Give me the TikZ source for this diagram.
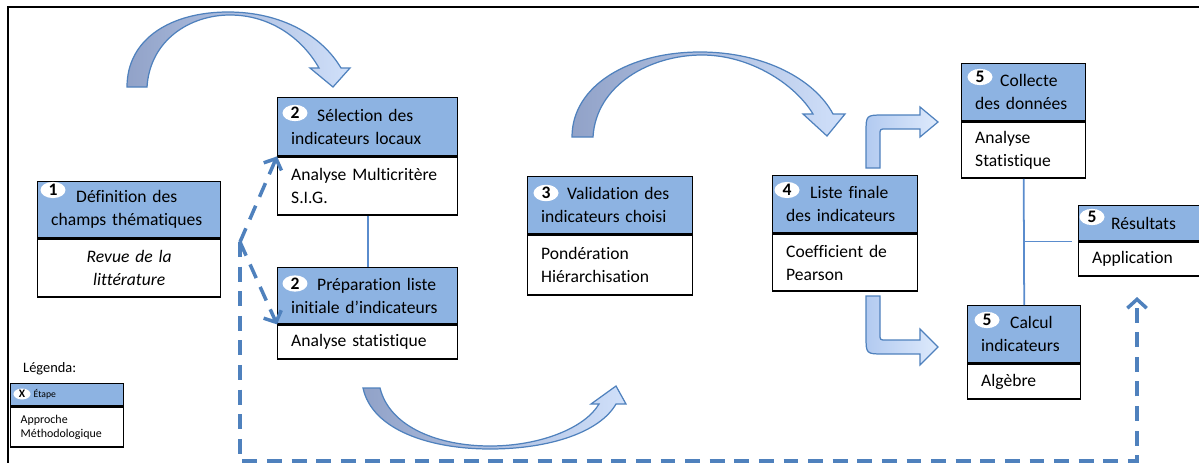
\documentclass[tikz,border=0pt]{standalone}
\usepackage{fontspec}
\setmainfont[Ligatures=NoCommon]{Carlito}
\usepackage{tikz}
\usetikzlibrary{arrows.meta, positioning, calc, shapes.geometric}
\definecolor{stepblue}{RGB}{141,179,226}
\definecolor{linkblue}{RGB}{79,129,189}
\definecolor{joinblue}{RGB}{90,140,205}
\definecolor{arrowdark}{RGB}{145,162,200}
\definecolor{arrowlight}{RGB}{208,224,250}
\definecolor{bentdark}{RGB}{178,202,240}
\definecolor{bentlight}{RGB}{222,234,252}
\tikzset{
  stephead/.style={rectangle, draw=black, line width=0.8pt, fill=stepblue,
    minimum height=1.14cm, inner xsep=0.27cm, inner ysep=0pt, align=left,
    text width=#1, font=\fontsize{10}{13}\selectfont},
  stepbody/.style={rectangle, draw=black, line width=0.8pt, fill=white,
    minimum height=1.16cm, inner xsep=0.27cm, inner ysep=0pt, align=left,
    text width=#1, font=\fontsize{10}{13}\selectfont},
  badge/.style={ellipse, fill=white, inner sep=0pt, minimum width=0.5cm,
    minimum height=0.32cm, font=\fontsize{10}{10}\selectfont\bfseries},
  linkline/.style={draw=joinblue, line width=1pt},
  dashlink/.style={draw=linkblue, line width=2pt, dash pattern=on 8.5pt off 5.5pt,
    -{Straight Barb[length=5pt, width=11pt]}},
  blockarrow/.style={draw=linkblue, line width=0.7pt, left color=arrowdark,
    right color=arrowlight},
  bentarrow/.style={draw=linkblue, line width=0.7pt, left color=bentdark,
    right color=bentlight},
  outerframe/.style={draw=black, line width=1.4pt},
}

\begin{document}
\begin{tikzpicture}[x=0.02cm, y=-0.02cm]
  \useasboundingbox (0,0) rectangle (1199,463);
  \draw[outerframe] (1199,7) -- (8,7) -- (8,463);

  % step 1
  \node[stephead=3.12cm, anchor=north west, minimum height=1.12cm] (h1) at (37,181)
        {\hspace*{0.5cm}Définition des\\champs thématiques};
  \node[stepbody=3.12cm, below=0pt of h1, align=center,
        font=\fontsize{10}{13}\selectfont\itshape] (b1) {Revue de la\\littérature};
  \node[badge] (n1) at ([xshift=0.32cm, yshift=-0.18cm]h1.north west) {1};

  % step 2
  \node[stephead=3.06cm, anchor=north west, minimum height=1.16cm] (h2a) at (277,97)
        {\hspace*{0.52cm}Sélection des\\indicateurs locaux};
  \node[stepbody=3.06cm, below=0pt of h2a] (b2a) {Analyse Multicritère\\S.I.G.};
  \node[badge] (n2a) at ([xshift=0.36cm, yshift=-0.32cm]h2a.north west) {2};
  \node[stephead=3.06cm, anchor=north west, minimum height=1.12cm] (h2b) at (277,267)
        {\hspace*{0.52cm}Préparation liste\\initiale d’indicateurs};
  \node[stepbody=3.06cm, below=0pt of h2b, minimum height=0.68cm] (b2b) {Analyse statistique};
  \node[badge] (n2b) at ([xshift=0.36cm, yshift=-0.33cm]h2b.north west) {2};
  \draw[linkline] (b2a.south) -- (h2b.north);

  % step 3
  \node[stephead=2.76cm, anchor=north west] (h3) at (527,176)
        {\hspace*{0.52cm}Validation des\\indicateurs choisi};
  \node[stepbody=2.76cm, below=0pt of h3, minimum height=1.2cm] (b3) {Pondération\\Hiérarchisation};
  \node[badge] (n3) at ([xshift=0.38cm, yshift=-0.34cm]h3.north west) {3};

  % step 4
  \node[stephead=2.36cm, anchor=north west] (h4) at (772,175)
        {\hspace*{0.48cm}Liste finale\\des indicateurs};
  \node[stepbody=2.36cm, below=0pt of h4, minimum height=1.14cm] (b4) {Coefficient de\\Pearson};
  \node[badge] (n4) at ([xshift=0.3cm, yshift=-0.3cm]h4.north west) {4};

  % step 5
  \node[stephead=1.94cm, anchor=north west] (h5a) at (961,63)
        {\hspace*{0.5cm}Collecte\\des données};
  \node[stepbody=1.94cm, below=0pt of h5a, minimum height=1.12cm] (b5a) {Analyse\\Statistique};
  \node[badge] (n5a) at ([xshift=0.38cm, yshift=-0.28cm]h5a.north west) {5};
  \node[stephead=2.0cm, anchor=north west, minimum height=0.7cm] (h5b) at (1078,205)
        {\hspace*{0.38cm}Résultats};
  \node[stepbody=2.0cm, below=0pt of h5b, minimum height=0.68cm] (b5b) {Application};
  \node[badge] (n5b) at ([xshift=0.28cm, yshift=-0.24cm]h5b.north west) {5};
  \node[stephead=1.72cm, anchor=north west] (h5c) at (967,305)
        {\hspace*{0.58cm}Calcul\\indicateurs};
  \node[stepbody=1.72cm, below=0pt of h5c, minimum height=0.7cm] (b5c) {Algèbre};
  \node[badge] (n5c) at ([xshift=0.4cm, yshift=-0.3cm]h5c.north west) {5};
  \draw[linkline] (b5a.south) -- (h5c.north);
  \coordinate (tee) at (b5a.south |- h5b.south west);
  \draw[linkline, shorten >=0.12cm] (tee) -- (h5b.south west);

  % legend
  \node[anchor=west, font=\fontsize{8.2}{9}\selectfont] (legtitle) at (17,369) {Légenda:};
  \node[stephead=2.02cm, anchor=north west, minimum height=0.44cm, inner xsep=0.12cm,
        font=\fontsize{5.5}{6}\selectfont] (hleg) at (10,383) {\hspace*{0.34cm}Étape};
  \node[stepbody=1.86cm, below=0pt of hleg, minimum height=0.8cm, inner xsep=0.2cm,
        font=\fontsize{6.8}{7.8}\selectfont] (bleg) {Approche\\Méthodologique};
  \node[badge, minimum width=0.34cm, minimum height=0.22cm,
        font=\fontsize{6.5}{6.5}\selectfont\bfseries] (nleg) at ([xshift=0.24cm, yshift=-0.22cm]hleg.north west) {X};

  % dashed links
  \coordinate (fork) at (240,242);
  \coordinate (resin) at (1137,297);
  \draw[dashlink] (fork) -- (h2a.south west);
  \draw[dashlink] (fork) -- (h2b.south west);
  \draw[dashlink] (fork) |- (1137,461) -- (resin);

  % curved block arrows
  \path[blockarrow] (127,87) .. controls (127,38) and (172,12) .. (228,12)
    .. controls (282,12) and (322,36) .. (341,68) -- (350,68) -- (333,87) -- (310,68) -- (319,68)
    .. controls (302,38) and (270,15) .. (230,15)
    .. controls (190,15) and (150,40) .. (147,87) -- cycle;
  \path[blockarrow] (572,137) .. controls (572,85) and (630,52) .. (700,52)
    .. controls (765,52) and (815,80) .. (833,114) -- (845,114) -- (827,136) -- (803,114) -- (813,114)
    .. controls (795,84) and (750,55) .. (702,55)
    .. controls (650,55) and (596,85) .. (593,137) -- cycle;
  \path[blockarrow] (363,388) .. controls (372,430) and (430,449) .. (490,449)
    .. controls (550,449) and (600,432) .. (616,404) -- (626,404) -- (616,386) -- (591,404) -- (599,404)
    .. controls (585,428) and (540,446) .. (490,446)
    .. controls (440,446) and (390,428) .. (380,388) -- cycle;

  % bent arrows
  \path[bentarrow] (866,168) -- (866,133) .. controls (866,115) .. (884,115) -- (920,115)
    -- (920,107) -- (938,122) -- (920,137) -- (920,129) -- (886,129)
    .. controls (880,129) .. (880,135) -- (880,168) -- cycle;
  \path[bentarrow] (866,296) -- (866,336) .. controls (866,354) .. (884,354) -- (920,354)
    -- (920,365) -- (938,347) -- (920,329) -- (920,340) -- (886,340)
    .. controls (880,340) .. (880,334) -- (880,296) -- cycle;
\end{tikzpicture}
\end{document}
